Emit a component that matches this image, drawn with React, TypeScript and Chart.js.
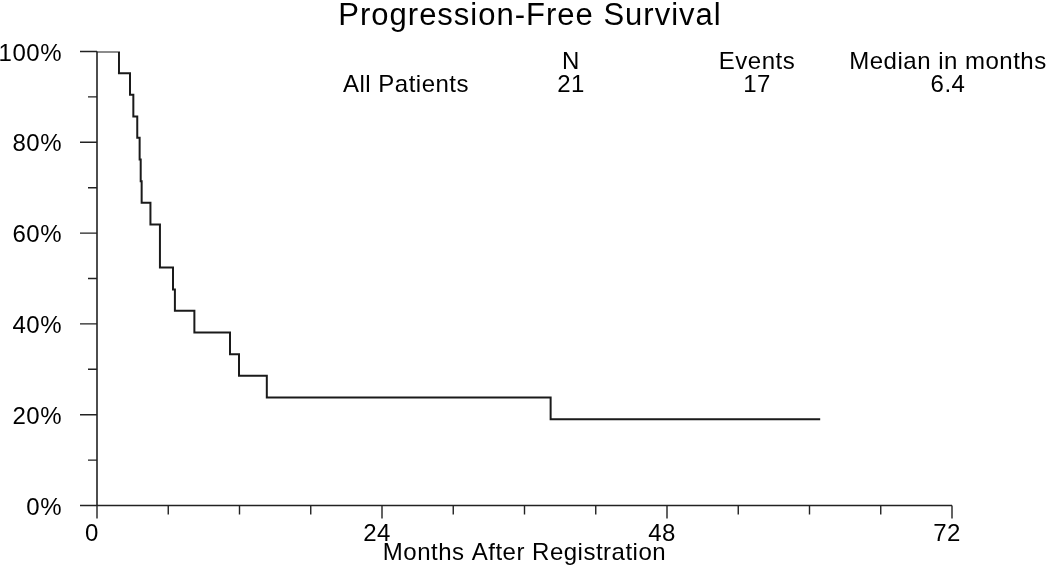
import React, { useEffect, useRef } from 'react';
import { Chart, registerables } from 'chart.js';

Chart.register(...registerables);

// ---- data ----
const chartTitle = 'Progression-Free Survival';
const xAxisTitle = 'Months After Registration';
// Kaplan-Meier step points: time (months) where survival drops to the given %
const eventTimes = [0, 1.85, 2.78, 3.06, 3.39, 3.59, 3.68, 3.76, 4.5, 5.3, 5.3, 6.4, 6.56, 8.2, 11.2, 11.96, 14.3, 38.2, 60.9];
const survivalPct = [100, 95.2, 90.5, 85.7, 81.0, 76.2, 71.4, 66.7, 61.9, 57.1, 52.4, 47.6, 42.9, 38.1, 33.3, 28.6, 23.8, 19.0, 19.0];
const xLabelStep = 24;
const xMinorStep = 6;
const xMax = 72;
const yLabelStep = 20;
const yMinorStep = 10;
const legendHeaders = ['N', 'Events', 'Median in months'];
const groupNames = ['All Patients'];
const groupValues = [['21', '17', '6.4']];

const FONT = '"Liberation Sans", Arial, sans-serif';

const spacingPlugin = {
  id: 'spacing',
  beforeDraw(chart: any) {
    chart.ctx.letterSpacing = '0.5px';
  },
};

const decorPlugin = {
  id: 'decor',
  afterDraw(chart: any) {
    const { ctx, chartArea, scales } = chart;
    const xs = scales.x;
    const ys = scales.y;
    ctx.save();
    ctx.strokeStyle = '#222';
    ctx.lineWidth = 1.6;
    // axes
    ctx.beginPath();
    ctx.moveTo(chartArea.left, ys.getPixelForValue(100));
    ctx.lineTo(chartArea.left, ys.getPixelForValue(0));
    ctx.moveTo(chartArea.left, ys.getPixelForValue(0));
    ctx.lineTo(xs.getPixelForValue(xMax), ys.getPixelForValue(0));
    ctx.stroke();
    // y ticks
    ctx.lineWidth = 1.4;
    ctx.beginPath();
    for (let v = 0; v <= 100; v += yMinorStep) {
      const y = ys.getPixelForValue(v);
      const len = v % yLabelStep === 0 ? 17 : 9;
      ctx.moveTo(chartArea.left - len, y);
      ctx.lineTo(chartArea.left, y);
    }
    // x ticks
    for (let v = 0; v <= xMax; v += xMinorStep) {
      const x = xs.getPixelForValue(v);
      const len = v % xLabelStep === 0 ? 13 : 9;
      const y0 = ys.getPixelForValue(0);
      ctx.moveTo(x, y0);
      ctx.lineTo(x, y0 + len);
    }
    ctx.stroke();

    // title
    ctx.fillStyle = '#000';
    ctx.textAlign = 'center';
    ctx.textBaseline = 'alphabetic';
    ctx.letterSpacing = '1px';
    ctx.font = `31px ${FONT}`;
    ctx.fillText(chartTitle, 530, 25);

    // legend table
    ctx.letterSpacing = '0.5px';
    ctx.font = `24px ${FONT}`;
    const colX = [571, 757, 948];
    legendHeaders.forEach((h, i) => ctx.fillText(h, colX[i], 69));
    groupNames.forEach((g, r) => {
      const y = 92 + r * 23;
      ctx.fillText(g, 406, y);
      groupValues[r].forEach((v, i) => ctx.fillText(v, colX[i], y));
    });
    ctx.restore();
  },
};

export default function App() {
  const ref = useRef<HTMLCanvasElement>(null);
  useEffect(() => {
    if (!ref.current) return;
    const data = eventTimes.map((t, i) => ({ x: t, y: survivalPct[i] }));
    const chart = new Chart(ref.current, {
      type: 'line',
      data: {
        datasets: [
          {
            data,
            stepped: 'before',
            borderColor: '#1a1a1a',
            borderWidth: 2,
            pointRadius: 0,
            fill: false,
          },
        ],
      },
      options: {
        animation: false,
        responsive: false,
        devicePixelRatio: 1,
        layout: { padding: { left: 0, right: 98, top: 51.5, bottom: 0 } },
        plugins: { legend: { display: false }, tooltip: { enabled: false } },
        scales: {
          x: {
            type: 'linear',
            min: 0,
            max: xMax,
            border: { display: false },
            grid: { display: false },
            ticks: {
              stepSize: xLabelStep,
              color: '#000',
              font: { family: FONT, size: 24 },
              padding: 6,
              labelOffset: -5,
              maxRotation: 0,
            },
            title: {
              display: true,
              text: xAxisTitle,
              color: '#000',
              font: { family: FONT, size: 24 },
              padding: { top: 0, bottom: 4 },
            },
            afterFit: (s: any) => {
              s.height = 66.5;
            },
          },
          y: {
            type: 'linear',
            min: 0,
            max: 100,
            border: { display: false },
            grid: { display: false },
            ticks: {
              stepSize: yLabelStep,
              color: '#000',
              font: { family: FONT, size: 24 },
              padding: 27,
              labelOffset: 2.5,
              callback: (v: any) => `${v}%`,
            },
            afterFit: (s: any) => {
              s.width = 97;
            },
          },
        },
      },
      plugins: [spacingPlugin, decorPlugin],
    });
    return () => chart.destroy();
  }, []);
  return (
    <div style={{ position: 'absolute', left: 0, top: 0, width: 1050, height: 572, background: '#fff' }}>
      <canvas ref={ref} width={1050} height={572} />
    </div>
  );
}
